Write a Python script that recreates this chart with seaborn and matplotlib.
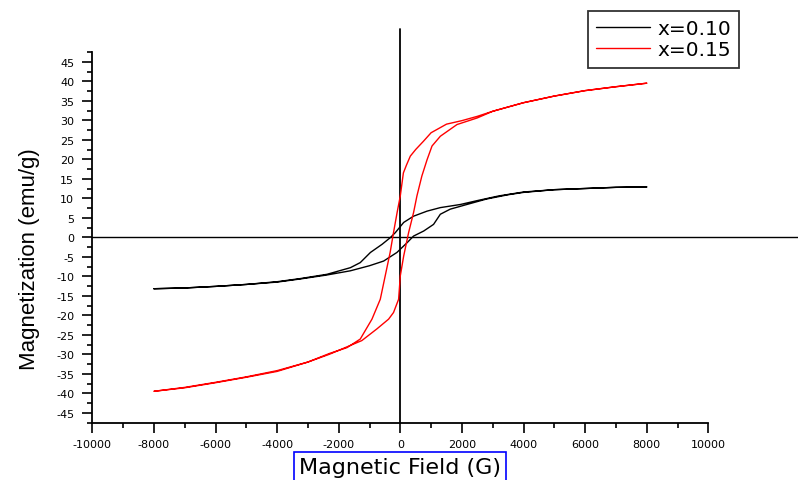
import matplotlib
matplotlib.use("Agg")
import matplotlib.pyplot as plt
import seaborn as sns
import numpy as np
import pandas as pd
from matplotlib.ticker import MultipleLocator

# x = 0.15 (red) loop: descending branch then ascending branch
red_down_h = [8000, 7000, 6000, 5000, 4000, 3000, 2500, 2000, 1500, 1000, 750, 500, 325, 200, 100, 0,
              -100, -220, -330, -490, -650, -920, -1300, -1730, -2300, -3000, -4000, -5000, -6000, -7000, -8000]
red_down_m = [39.5, 38.6, 37.6, 36.2, 34.5, 32.3, 31.0, 29.9, 29.0, 26.8, 24.6, 22.5, 20.8, 18.5, 16.5, 10.6,
              6.5, 1.2, -3.9, -9.9, -15.9, -21.0, -26.1, -28.3, -29.8, -32.0, -34.2, -35.8, -37.2, -38.5, -39.5]
red_up_h = [-8000, -7000, -6000, -5000, -4000, -3000, -2300, -1700, -1250, -760, -380, -220, -55, 0,
            110, 270, 430, 540, 700, 870, 1030, 1300, 1840, 2500, 3000, 4000, 5000, 6000, 7000, 8000]
red_up_m = [-39.5, -38.6, -37.3, -35.9, -34.4, -32.0, -30.0, -28.0, -26.5, -23.5, -21.0, -19.3, -15.9, -9.9,
            -4.8, 1.2, 6.3, 10.6, 15.7, 19.9, 23.4, 25.9, 28.9, 30.6, 32.3, 34.5, 36.2, 37.6, 38.6, 39.5]

# x = 0.10 (black) loop
blk_down_h = [8000, 7000, 6000, 5000, 4000, 3200, 2500, 1950, 1300, 870, 430, 110, -160, -325, -590,
              -970, -1300, -1620, -2380, -3250, -4000, -5000, -6000, -7000, -8000]
blk_down_m = [12.9, 12.8, 12.5, 12.2, 11.6, 10.6, 9.4, 8.4, 7.6, 6.7, 5.4, 3.8, 1.2, -0.1, -1.8,
              -3.9, -6.5, -7.8, -9.5, -10.6, -11.4, -12.1, -12.6, -13.0, -13.2]
blk_up_h = [-8000, -7000, -6000, -5000, -4000, -3250, -2400, -1620, -1000, -540, -110, 220, 430, 760,
            1080, 1300, 1620, 2160, 2800, 3500, 4000, 5000, 6000, 7000, 8000]
blk_up_m = [-13.2, -13.0, -12.6, -12.1, -11.5, -10.7, -9.7, -8.6, -7.3, -6.1, -3.9, -1.4, 0.3, 1.6,
            3.3, 5.9, 7.2, 8.4, 9.8, 10.9, 11.5, 12.2, 12.5, 12.8, 12.9]

sns.set_style("white")
plt.rcParams["font.family"] = ["DejaVu Sans"]
plt.rcParams["axes.unicode_minus"] = False
for key in ["text.color", "axes.labelcolor", "xtick.color", "ytick.color"]:
    plt.rcParams[key] = "black"

fig = plt.figure(figsize=(7.98, 4.81), dpi=100)
ax = fig.add_axes([92.3 / 798, 1 - 423.5 / 481, 616 / 798, 370.5 / 481])

black = pd.DataFrame({"H": blk_down_h + blk_up_h, "M": blk_down_m + blk_up_m})
red = pd.DataFrame({"H": red_down_h + red_up_h, "M": red_down_m + red_up_m})

sns.lineplot(data=black, x="H", y="M", sort=False, estimator=None, color="black", lw=1.0, ax=ax, label="x=0.10")
sns.lineplot(data=red, x="H", y="M", sort=False, estimator=None, color="red", lw=1.0, ax=ax, label="x=0.15")

ax.set_xlim(-10000, 10000)
ax.set_ylim(-47.5, 47.5)
ax.xaxis.set_major_locator(MultipleLocator(2000))
ax.xaxis.set_minor_locator(MultipleLocator(1000))
ax.set_yticks(np.arange(-45, 46, 5))
ax.yaxis.set_minor_locator(MultipleLocator(2.5))
ax.tick_params(which="major", direction="out", length=7, width=1.2, color="black", labelsize=8,
               labelcolor="black", left=True, bottom=True)
ax.tick_params(axis="y", which="major", pad=6)
ax.tick_params(axis="x", which="major", pad=5)
ax.tick_params(which="minor", direction="out", length=3.5, width=1.2, color="black", left=True, bottom=True)

for s in ["top", "right"]:
    ax.spines[s].set_visible(False)
for s in ["left", "bottom"]:
    ax.spines[s].set_color("black")
    ax.spines[s].set_linewidth(1.3)

# zero lines drawn past the frame, as in the original
ax.axvline(0, ymin=0, ymax=1.062, color="black", lw=1.3, clip_on=False, zorder=1)
ax.axhline(0, xmin=0, xmax=1.146, color="black", lw=1.0, clip_on=False, zorder=1)

ax.set_ylabel("Magnetization (emu/g)", fontsize=16, family="Liberation Sans", color="black")
ax.yaxis.set_label_coords(-0.085, 0.445)
ax.set_xlabel("")
fig.text(400 / 798, 1 - 468 / 481, "Magnetic Field (G)", fontsize=16, ha="center", va="center",
         color="black", bbox=dict(boxstyle="square,pad=0.22", fc="none", ec="blue", lw=1.2))

ax.get_legend().remove()
handles, labels = ax.get_legend_handles_labels()
leg = fig.legend(handles, labels, loc="upper left", bbox_to_anchor=(588 / 798, 1 - 12 / 481),
                 fontsize=14.5, frameon=True, fancybox=False, edgecolor="black", handlelength=2.7,
                 borderpad=0.4, labelspacing=0.12, handletextpad=0.35, borderaxespad=0)
leg.get_frame().set_linewidth(1.3)

fig.savefig("out.png", dpi=100)
